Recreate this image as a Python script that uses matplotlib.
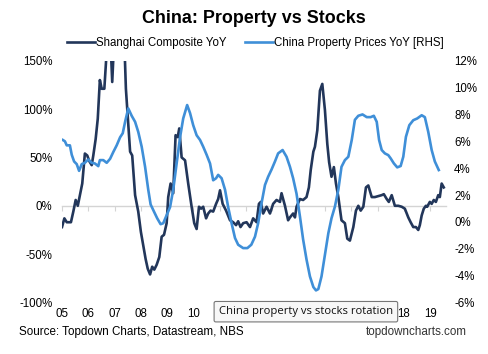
import numpy as np
import matplotlib
matplotlib.use("Agg")
import matplotlib.pyplot as plt
from matplotlib.lines import Line2D

plt.rcParams['font.family'] = ['Liberation Sans', 'DejaVu Sans']

# Shanghai Composite YoY (%), x in decimal years
stk_x = [2005.00, 2005.09, 2005.18, 2005.34, 2005.43, 2005.52, 2005.60, 2005.68, 2005.77, 2005.87,
         2005.96, 2006.04, 2006.13, 2006.19, 2006.28, 2006.36, 2006.44, 2006.51, 2006.61, 2006.70,
         2006.83, 2006.91, 2006.99, 2007.10, 2007.20, 2007.30, 2007.37, 2007.43, 2007.50, 2007.59,
         2007.67, 2007.78, 2007.90, 2008.00, 2008.09, 2008.18, 2008.26, 2008.35, 2008.43, 2008.51,
         2008.60, 2008.70, 2008.79, 2008.88, 2008.98, 2009.04, 2009.13, 2009.23, 2009.32, 2009.40,
         2009.46, 2009.55, 2009.68, 2009.80, 2009.93, 2010.03, 2010.12, 2010.21, 2010.29, 2010.37,
         2010.48, 2010.56, 2010.65, 2010.75, 2010.86, 2010.94, 2011.01, 2011.11, 2011.24, 2011.39,
         2011.51, 2011.62, 2011.70, 2011.79, 2011.89, 2012.02, 2012.15, 2012.27, 2012.40, 2012.49,
         2012.56, 2012.65, 2012.78, 2012.91, 2013.03, 2013.16, 2013.29, 2013.35, 2013.48, 2013.60,
         2013.67, 2013.79, 2013.86, 2013.92, 2014.05, 2014.17, 2014.30, 2014.39, 2014.46, 2014.56,
         2014.62, 2014.71, 2014.81, 2014.90, 2015.00, 2015.09, 2015.16, 2015.25, 2015.34, 2015.42,
         2015.51, 2015.63, 2015.76, 2015.85, 2015.95, 2016.08, 2016.18, 2016.27, 2016.36, 2016.46,
         2016.56, 2016.65, 2016.78, 2016.90, 2017.03, 2017.16, 2017.24, 2017.35, 2017.43, 2017.54,
         2017.66, 2017.79, 2017.92, 2018.04, 2018.17, 2018.26, 2018.36, 2018.46, 2018.55, 2018.61,
         2018.68, 2018.76, 2018.84, 2018.89, 2018.99, 2019.06, 2019.14, 2019.22, 2019.31, 2019.37,
         2019.44, 2019.52]
stk_y = [-22, -13, -17, -17, -6, 6, 0, 11, 23, 54,
         52, 46, 42, 52, 69, 90, 130, 121, 121, 160,
         180, 128, 175, 210, 230, 200, 170, 121, 93, 56,
         52, 11, -6, -27, -41, -55, -65, -71, -63, -66,
         -61, -53, -32, -30, -18, 9, 23, 13, 73, 71,
         80, 50, 47, 23, -1, -18, -24, -1, -3, -1,
         -13, -8, -5, -6, 2, 7, 16, 2, -5, -15,
         -17, -20, -16, -22, -18, -17, -22, -13, -17, 2,
         4, -8, -1, -8, 2, 6, 4, 13, 0, -15,
         -12, -8, -12, -1, 7, 6, 9, 19, 37, 56,
         61, 78, 119, 126, 99, 64, 45, 30, 40, 23,
         9, -15, -18, -34, -36, -22, -5, 0, -5, -1,
         19, 21, 9, 9, 10, 11, 12, 7, 4, 11,
         0, 0, -1, -3, -12, -17, -22, -22, -25, -20,
         -10, -3, 0, -1, 4, 2, 6, 4, 11, 9,
         23, 19]

# China property prices YoY (%), right axis
prop_x = [2005.03, 2005.11, 2005.18, 2005.30, 2005.37, 2005.46, 2005.56, 2005.65, 2005.75, 2005.87,
          2006.00, 2006.13, 2006.25, 2006.38, 2006.44, 2006.57, 2006.70, 2006.83, 2006.95, 2007.08,
          2007.21, 2007.31, 2007.40, 2007.52, 2007.65, 2007.78, 2007.90, 2008.03, 2008.16, 2008.28,
          2008.37, 2008.50, 2008.62, 2008.75, 2008.85, 2008.98, 2009.11, 2009.23, 2009.36, 2009.49,
          2009.61, 2009.76, 2009.87, 2009.99, 2010.12, 2010.25, 2010.37, 2010.50, 2010.63, 2010.75,
          2010.86, 2010.94, 2011.07, 2011.20, 2011.32, 2011.45, 2011.58, 2011.70, 2011.89, 2012.05,
          2012.20, 2012.34, 2012.46, 2012.59, 2012.72, 2012.84, 2012.97, 2013.10, 2013.22, 2013.39,
          2013.54, 2013.67, 2013.79, 2013.92, 2014.05, 2014.17, 2014.30, 2014.43, 2014.56, 2014.66,
          2014.75, 2014.87, 2015.00, 2015.13, 2015.25, 2015.38, 2015.51, 2015.63, 2015.76, 2015.89,
          2016.02, 2016.14, 2016.27, 2016.43, 2016.59, 2016.74, 2016.86, 2016.97, 2017.06, 2017.16,
          2017.28, 2017.41, 2017.50, 2017.62, 2017.75, 2017.88, 2017.98, 2018.08, 2018.21, 2018.36,
          2018.51, 2018.68, 2018.80, 2018.93, 2019.06, 2019.18, 2019.33]
prop_y = [6.1, 6.0, 5.7, 5.7, 5.0, 4.5, 4.3, 3.8, 4.3, 4.4,
          4.65, 4.4, 4.35, 4.15, 4.6, 4.6, 4.4, 4.7, 5.2, 5.7,
          6.3, 6.6, 7.45, 8.45, 7.9, 7.45, 6.7, 5.6, 4.1, 2.4,
          1.3, 0.76, 0.27, -0.17, -0.1, 0.5, 1.1, 2.4, 4.35, 6.3,
          7.7, 8.7, 8.1, 7.2, 6.45, 6.1, 5.6, 5.0, 4.35, 3.1,
          3.25, 3.5, 3.25, 2.4, 1.1, -0.1, -1.2, -1.7, -1.95, -1.95,
          -1.7, -1.1, -0.1, 1.4, 2.75, 3.36, 3.9, 4.5, 5.1, 5.35,
          4.85, 4.1, 3.25, 2.1, 0.4, -1.3, -2.8, -4.06, -4.85, -5.1,
          -5.0, -4.06, -2.45, -0.84, 0.27, 1.14, 2.4, 4.1, 4.6, 4.85,
          6.1, 7.6, 7.9, 8.0, 7.8, 7.8, 7.9, 7.45, 6.1, 5.35,
          5.1, 4.97, 4.73, 4.36, 4.06, 4.16, 4.85, 6.33, 7.2, 7.57,
          7.7, 7.94, 7.8, 6.7, 5.35, 4.5, 3.86]

years = list(range(2005, 2020))
year_labels = ['%02d' % (y % 100) for y in years]

dark = '#22365a'
light = '#3f8fd8'

fig = plt.figure(figsize=(4.89, 3.54), dpi=100)
ax = fig.add_axes([0.1268, 0.1455, 0.785, 0.683])
ax2 = ax.twinx()

ax.plot(stk_x, stk_y, color=dark, lw=1.9, solid_joinstyle='round')
ax2.plot(prop_x, prop_y, color=light, lw=1.9, solid_joinstyle='round')

ax.set_xlim(2005, 2019.6)
ax.set_ylim(-100, 150)
ax2.set_ylim(-6, 12)
ax.set_yticks(range(-100, 151, 50))
ax.set_yticklabels(['%d%%' % v for v in range(-100, 151, 50)])
ax2.set_yticks(range(-6, 13, 2))
ax2.set_yticklabels(['%d%%' % v for v in range(-6, 13, 2)])

ax.set_xticks(years)
ax.set_xticklabels(year_labels)

for a in (ax, ax2):
    for s in a.spines.values():
        s.set_visible(False)
ax.tick_params(axis='x', length=0, pad=4, labelsize=8.3)
ax.tick_params(axis='y', length=0, pad=7, labelsize=8.3)
ax2.tick_params(axis='y', length=0, pad=6, labelsize=8.3)

# zero line with year ticks
zero = ax.secondary_xaxis(0.4)
zero.set_xticks(years)
zero.set_xticklabels([])
zero.tick_params(length=3.5, width=0.8, color='#d4d4d4', direction='out')
zero.spines['bottom'].set_color('#d4d4d4')
zero.spines['bottom'].set_linewidth(1.0)
zero.spines['top'].set_visible(False)

fig.text(0.52, 0.948, 'China: Property vs Stocks', ha='center', va='center',
         fontsize=12.9, fontweight='bold')

handles = [Line2D([], [], color=dark, lw=1.9), Line2D([], [], color=light, lw=1.9)]
fig.legend(handles, ['Shanghai Composite YoY', 'China Property Prices YoY [RHS]'],
           loc='center', bbox_to_anchor=(0.522, 0.878), ncol=2, frameon=False,
           fontsize=8.3, handlelength=2.45, handletextpad=0.1, columnspacing=1.6,
           borderpad=0, borderaxespad=0)

fig.text(0.039, 0.062, 'Source: Topdown Charts, Datastream, NBS', ha='left', va='center',
         fontsize=8.4)
fig.text(0.955, 0.062, 'topdowncharts.com', ha='right', va='center', fontsize=8.4,
         color='#333333')

# hover tooltip captured in the screenshot
fig.text(0.4475, 0.1195, 'China property vs stocks rotation', ha='left', va='center',
         fontsize=8.1, family=['Open Sans', 'DejaVu Sans'], color='#111111', zorder=10,
         bbox=dict(boxstyle='round,pad=0.42,rounding_size=0.15', fc='#f7f7f7',
                   ec='#767676', lw=0.8))

fig.savefig('out.png', dpi=100)
